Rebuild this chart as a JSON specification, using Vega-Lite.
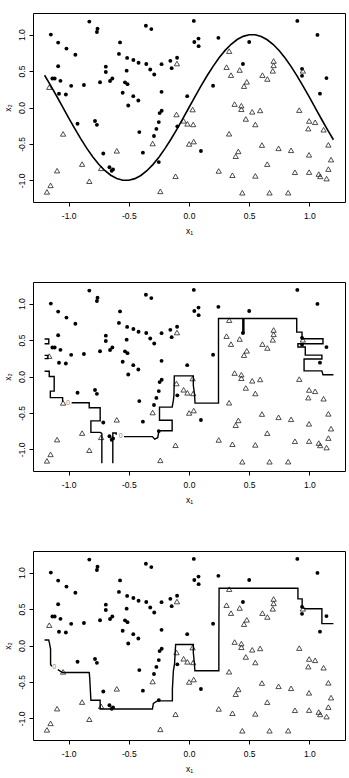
{
"$schema":"https://vega.github.io/schema/vega-lite/v6.json",
"autosize":{"type":"pad"},
"padding":{"left":2,"top":12,"right":5,"bottom":5},
"spacing":80,
"bounds":"flush",
"config":{"view":{"stroke":"black","strokeWidth":1},
"axis":{"domain":false,"grid":false,"tickColor":"black","tickSize":4,"tickWidth":1,"labelFont":"Liberation Sans","labelFontSize":8.5,"labelColor":"black","titleFont":"Liberation Sans","titleFontSize":8.5,"titleFontWeight":"normal","titleColor":"black"}},
"datasets":{
"pts":[
{"x":-1.148,"y":1.0,"cls":"a"},{"x":-1.087,"y":0.89,"cls":"a"},{"x":-1.018,"y":0.808,"cls":"a"},{"x":-0.944,"y":0.724,"cls":"a"},{"x":-1.087,"y":0.566,"cls":"a"},{"x":-1.135,"y":0.397,"cls":"a"},{"x":-1.116,"y":0.397,"cls":"a"},{"x":-1.068,"y":0.366,"cls":"a"},{"x":-1.08,"y":0.188,"cls":"a"},{"x":-1.023,"y":0.178,"cls":"a"},{"x":-0.979,"y":0.297,"cls":"a"},{"x":-0.873,"y":0.308,"cls":"a"},{"x":-0.828,"y":1.178,"cls":"a"},{"x":-0.76,"y":1.08,"cls":"a"},{"x":-0.765,"y":1.035,"cls":"a"},{"x":-0.739,"y":0.347,"cls":"a"},{"x":-0.691,"y":0.56,"cls":"a"},{"x":-0.691,"y":0.487,"cls":"a"},{"x":-0.656,"y":0.363,"cls":"a"},{"x":-0.637,"y":0.397,"cls":"a"},{"x":-0.573,"y":0.893,"cls":"a"},{"x":-0.582,"y":0.735,"cls":"a"},{"x":-0.514,"y":0.68,"cls":"a"},{"x":-0.518,"y":0.505,"cls":"a"},{"x":-0.532,"y":0.345,"cls":"a"},{"x":-0.511,"y":0.32,"cls":"a"},{"x":-0.551,"y":0.203,"cls":"a"},{"x":-0.505,"y":0.027,"cls":"a"},{"x":-0.462,"y":0.651,"cls":"a"},{"x":-0.463,"y":0.156,"cls":"a"},{"x":-0.421,"y":0.096,"cls":"a"},{"x":-0.419,"y":0.614,"cls":"a"},{"x":-0.358,"y":1.121,"cls":"a"},{"x":-0.313,"y":1.075,"cls":"a"},{"x":-0.355,"y":0.596,"cls":"a"},{"x":-0.322,"y":0.521,"cls":"a"},{"x":-0.289,"y":0.452,"cls":"a"},{"x":-0.228,"y":0.594,"cls":"a"},{"x":-0.155,"y":0.64,"cls":"a"},{"x":-0.144,"y":0.54,"cls":"a"},{"x":-0.099,"y":0.683,"cls":"a"},{"x":-0.228,"y":0.215,"cls":"a"},{"x":-0.227,"y":-0.045,"cls":"a"},{"x":-0.244,"y":-0.077,"cls":"a"},{"x":0.04,"y":1.188,"cls":"a"},{"x":0.044,"y":0.898,"cls":"a"},{"x":0.079,"y":0.945,"cls":"a"},{"x":0.08,"y":0.841,"cls":"a"},{"x":-0.015,"y":0.156,"cls":"a"},{"x":0.2,"y":0.299,"cls":"a"},{"x":0.244,"y":0.955,"cls":"a"},{"x":0.448,"y":0.597,"cls":"a"},{"x":0.5,"y":0.898,"cls":"a"},{"x":0.9,"y":1.188,"cls":"a"},{"x":1.067,"y":0.996,"cls":"a"},{"x":0.939,"y":0.53,"cls":"a"},{"x":0.939,"y":0.434,"cls":"a"},{"x":1.142,"y":0.403,"cls":"a"},{"x":1.088,"y":0.19,"cls":"a"},{"x":-0.926,"y":-0.223,"cls":"a"},{"x":-0.781,"y":-0.185,"cls":"a"},{"x":-0.765,"y":-0.238,"cls":"a"},{"x":-0.413,"y":-0.337,"cls":"a"},{"x":-0.271,"y":-0.294,"cls":"a"},{"x":-0.251,"y":-0.2,"cls":"a"},{"x":-0.291,"y":-0.391,"cls":"a"},{"x":-0.097,"y":-0.258,"cls":"a"},{"x":-0.712,"y":-0.631,"cls":"a"},{"x":-0.383,"y":-0.619,"cls":"a"},{"x":0.099,"y":-0.597,"cls":"a"},{"x":-0.661,"y":-0.82,"cls":"a"},{"x":-0.631,"y":-0.849,"cls":"a"},{"x":-0.642,"y":-0.868,"cls":"a"},{"x":-0.251,"y":-0.749,"cls":"a"},
{"x":-1.161,"y":0.279,"cls":"b"},{"x":-0.1,"y":0.603,"cls":"b"},{"x":-0.104,"y":-0.096,"cls":"b"},{"x":0.03,"y":-0.028,"cls":"b"},{"x":-0.045,"y":-0.182,"cls":"b"},{"x":-0.013,"y":-0.224,"cls":"b"},{"x":0.035,"y":-0.232,"cls":"b"},{"x":0.334,"y":0.773,"cls":"b"},{"x":0.312,"y":0.553,"cls":"b"},{"x":0.349,"y":0.444,"cls":"b"},{"x":0.421,"y":0.514,"cls":"b"},{"x":0.48,"y":0.352,"cls":"b"},{"x":0.457,"y":0.293,"cls":"b"},{"x":0.379,"y":0.047,"cls":"b"},{"x":0.435,"y":0.025,"cls":"b"},{"x":0.435,"y":-0.024,"cls":"b"},{"x":0.525,"y":-0.059,"cls":"b"},{"x":0.591,"y":-0.04,"cls":"b"},{"x":0.472,"y":-0.157,"cls":"b"},{"x":0.551,"y":-0.233,"cls":"b"},{"x":0.61,"y":0.444,"cls":"b"},{"x":0.651,"y":0.391,"cls":"b"},{"x":0.703,"y":0.638,"cls":"b"},{"x":0.703,"y":0.578,"cls":"b"},{"x":0.696,"y":0.503,"cls":"b"},{"x":0.916,"y":-0.036,"cls":"b"},{"x":0.946,"y":0.503,"cls":"b"},{"x":0.998,"y":-0.185,"cls":"b"},{"x":1.048,"y":-0.203,"cls":"b"},{"x":0.991,"y":-0.29,"cls":"b"},{"x":1.118,"y":-0.305,"cls":"b"},{"x":-1.046,"y":-0.362,"cls":"b"},{"x":-1.096,"y":-0.866,"cls":"b"},{"x":-1.15,"y":-1.068,"cls":"b"},{"x":-1.18,"y":-1.157,"cls":"b"},{"x":-0.888,"y":-0.776,"cls":"b"},{"x":-0.828,"y":-1.011,"cls":"b"},{"x":-0.73,"y":-0.834,"cls":"b"},{"x":-0.6,"y":-0.594,"cls":"b"},{"x":-0.302,"y":-0.494,"cls":"b"},{"x":-0.112,"y":-0.943,"cls":"b"},{"x":-0.238,"y":-1.15,"cls":"b"},{"x":0.001,"y":-0.5,"cls":"b"},{"x":0.039,"y":-0.467,"cls":"b"},{"x":0.333,"y":-0.36,"cls":"b"},{"x":0.388,"y":-0.668,"cls":"b"},{"x":0.41,"y":-0.602,"cls":"b"},{"x":0.247,"y":-0.87,"cls":"b"},{"x":0.361,"y":-0.929,"cls":"b"},{"x":0.443,"y":-1.169,"cls":"b"},{"x":0.551,"y":-0.938,"cls":"b"},{"x":0.606,"y":-0.515,"cls":"b"},{"x":0.65,"y":-0.777,"cls":"b"},{"x":0.744,"y":-0.56,"cls":"b"},{"x":0.848,"y":-0.587,"cls":"b"},{"x":0.669,"y":-1.169,"cls":"b"},{"x":0.824,"y":-1.168,"cls":"b"},{"x":0.88,"y":-0.888,"cls":"b"},{"x":0.998,"y":-0.886,"cls":"b"},{"x":0.997,"y":-0.649,"cls":"b"},{"x":1.158,"y":-0.512,"cls":"b"},{"x":1.18,"y":-0.715,"cls":"b"},{"x":1.158,"y":-0.845,"cls":"b"},{"x":1.078,"y":-0.913,"cls":"b"},{"x":1.09,"y":-0.945,"cls":"b"},{"x":1.143,"y":-0.975,"cls":"b"}
],
"sine":[
{"x":-1.2,"y":0.4425,"piece":"s","ord":0},{"x":-1.15,"y":0.3035,"piece":"s","ord":1},{"x":-1.1,"y":0.1577,"piece":"s","ord":2},{"x":-1.05,"y":0.0084,"piece":"s","ord":3},{"x":-1.0,"y":-0.1411,"piece":"s","ord":4},{"x":-0.95,"y":-0.2875,"piece":"s","ord":5},{"x":-0.9,"y":-0.4274,"piece":"s","ord":6},{"x":-0.85,"y":-0.5577,"piece":"s","ord":7},{"x":-0.8,"y":-0.6755,"piece":"s","ord":8},{"x":-0.75,"y":-0.7781,"piece":"s","ord":9},{"x":-0.7,"y":-0.8632,"piece":"s","ord":10},{"x":-0.65,"y":-0.929,"piece":"s","ord":11},{"x":-0.6,"y":-0.9738,"piece":"s","ord":12},{"x":-0.55,"y":-0.9969,"piece":"s","ord":13},{"x":-0.5,"y":-0.9975,"piece":"s","ord":14},{"x":-0.45,"y":-0.9757,"piece":"s","ord":15},{"x":-0.4,"y":-0.932,"piece":"s","ord":16},{"x":-0.35,"y":-0.8674,"piece":"s","ord":17},{"x":-0.3,"y":-0.7833,"piece":"s","ord":18},{"x":-0.25,"y":-0.6816,"piece":"s","ord":19},{"x":-0.2,"y":-0.5646,"piece":"s","ord":20},{"x":-0.15,"y":-0.435,"piece":"s","ord":21},{"x":-0.1,"y":-0.2955,"piece":"s","ord":22},{"x":-0.05,"y":-0.1494,"piece":"s","ord":23},{"x":0.0,"y":0.0,"piece":"s","ord":24},{"x":0.05,"y":0.1494,"piece":"s","ord":25},{"x":0.1,"y":0.2955,"piece":"s","ord":26},{"x":0.15,"y":0.435,"piece":"s","ord":27},{"x":0.2,"y":0.5646,"piece":"s","ord":28},{"x":0.25,"y":0.6816,"piece":"s","ord":29},{"x":0.3,"y":0.7833,"piece":"s","ord":30},{"x":0.35,"y":0.8674,"piece":"s","ord":31},{"x":0.4,"y":0.932,"piece":"s","ord":32},{"x":0.45,"y":0.9757,"piece":"s","ord":33},{"x":0.5,"y":0.9975,"piece":"s","ord":34},{"x":0.55,"y":0.9969,"piece":"s","ord":35},{"x":0.6,"y":0.9738,"piece":"s","ord":36},{"x":0.65,"y":0.929,"piece":"s","ord":37},{"x":0.7,"y":0.8632,"piece":"s","ord":38},{"x":0.75,"y":0.7781,"piece":"s","ord":39},{"x":0.8,"y":0.6755,"piece":"s","ord":40},{"x":0.85,"y":0.5577,"piece":"s","ord":41},{"x":0.9,"y":0.4274,"piece":"s","ord":42},{"x":0.95,"y":0.2875,"piece":"s","ord":43},{"x":1.0,"y":0.1411,"piece":"s","ord":44},{"x":1.05,"y":-0.0084,"piece":"s","ord":45},{"x":1.1,"y":-0.1577,"piece":"s","ord":46},{"x":1.15,"y":-0.3035,"piece":"s","ord":47},{"x":1.2,"y":-0.4425,"piece":"s","ord":48}
],
"c2":[
{"x":-1.2,"y":0.072,"piece":"a1","ord":0},{"x":-1.161,"y":0.072,"piece":"a1","ord":1},{"x":-1.161,"y":0.0,"piece":"a1","ord":2},{"x":-1.12,"y":0.0,"piece":"a1","ord":3},{"x":-1.12,"y":-0.2,"piece":"a1","ord":4},{"x":-1.152,"y":-0.2,"piece":"a1","ord":5},{"x":-1.152,"y":-0.29,"piece":"a1","ord":6},{"x":-1.05,"y":-0.29,"piece":"a1","ord":7},{"x":-1.05,"y":-0.345,"piece":"a1","ord":8},
{"x":-0.975,"y":-0.36,"piece":"a2","ord":0},{"x":-0.829,"y":-0.36,"piece":"a2","ord":1},{"x":-0.829,"y":-0.428,"piece":"a2","ord":2},{"x":-0.738,"y":-0.428,"piece":"a2","ord":3},{"x":-0.738,"y":-0.608,"piece":"a2","ord":4},{"x":-0.815,"y":-0.608,"piece":"a2","ord":5},{"x":-0.815,"y":-0.766,"piece":"a2","ord":6},{"x":-0.738,"y":-0.766,"piece":"a2","ord":7},{"x":-0.724,"y":-0.78,"piece":"a2","ord":8},{"x":-0.724,"y":-1.19,"piece":"a2","ord":9},
{"x":-0.633,"y":-1.19,"piece":"b","ord":0},{"x":-0.633,"y":-0.775,"piece":"b","ord":1},{"x":-0.605,"y":-0.775,"piece":"b","ord":2},{"x":-0.605,"y":-0.8,"piece":"b","ord":3},
{"x":-0.54,"y":-0.824,"piece":"c","ord":0},{"x":-0.304,"y":-0.824,"piece":"c","ord":1},{"x":-0.285,"y":-0.86,"piece":"c","ord":2},{"x":-0.26,"y":-0.84,"piece":"c","ord":3},{"x":-0.249,"y":-0.743,"piece":"c","ord":4},{"x":-0.14,"y":-0.743,"piece":"c","ord":5},{"x":-0.14,"y":-0.6,"piece":"c","ord":6},{"x":-0.245,"y":-0.6,"piece":"c","ord":7},{"x":-0.245,"y":-0.42,"piece":"c","ord":8},{"x":-0.14,"y":-0.42,"piece":"c","ord":9},{"x":-0.13,"y":-0.33,"piece":"c","ord":10},{"x":-0.125,"y":-0.25,"piece":"c","ord":11},{"x":-0.122,"y":0.008,"piece":"c","ord":12},{"x":0.036,"y":0.008,"piece":"c","ord":13},{"x":0.036,"y":-0.12,"piece":"c","ord":14},{"x":0.046,"y":-0.25,"piece":"c","ord":15},{"x":0.05,"y":-0.365,"piece":"c","ord":16},{"x":0.245,"y":-0.365,"piece":"c","ord":17},{"x":0.245,"y":0.795,"piece":"c","ord":18},{"x":0.447,"y":0.795,"piece":"c","ord":19},{"x":0.447,"y":0.6,"piece":"c","ord":20},{"x":0.456,"y":0.6,"piece":"c","ord":21},{"x":0.456,"y":0.795,"piece":"c","ord":22},{"x":0.895,"y":0.795,"piece":"c","ord":23},{"x":0.895,"y":0.608,"piece":"c","ord":24},{"x":0.939,"y":0.608,"piece":"c","ord":25},{"x":0.939,"y":0.518,"piece":"c","ord":26},{"x":1.113,"y":0.518,"piece":"c","ord":27},{"x":1.113,"y":0.45,"piece":"c","ord":28},{"x":0.905,"y":0.45,"piece":"c","ord":29},{"x":0.905,"y":0.405,"piece":"c","ord":30},{"x":0.966,"y":0.405,"piece":"c","ord":31},{"x":0.966,"y":0.293,"piece":"c","ord":32},{"x":1.104,"y":0.293,"piece":"c","ord":33},{"x":1.104,"y":0.239,"piece":"c","ord":34},{"x":0.956,"y":0.239,"piece":"c","ord":35},{"x":0.956,"y":0.077,"piece":"c","ord":36},{"x":1.104,"y":0.077,"piece":"c","ord":37},{"x":1.113,"y":0.023,"piece":"c","ord":38},{"x":1.2,"y":0.023,"piece":"c","ord":39},
{"x":-1.2,"y":0.515,"piece":"d","ord":0},{"x":-1.165,"y":0.515,"piece":"d","ord":1},{"x":-1.165,"y":0.45,"piece":"d","ord":2},{"x":-1.2,"y":0.45,"piece":"d","ord":3},
{"x":-1.2,"y":0.29,"piece":"e","ord":0},{"x":-1.172,"y":0.29,"piece":"e","ord":1},{"x":-1.172,"y":0.245,"piece":"e","ord":2},{"x":-1.2,"y":0.245,"piece":"e","ord":3}
],
"c3":[
{"x":-1.2,"y":0.076,"piece":"a1","ord":0},{"x":-1.166,"y":0.076,"piece":"a1","ord":1},{"x":-1.16,"y":0.04,"piece":"a1","ord":2},{"x":-1.15,"y":-0.05,"piece":"a1","ord":3},{"x":-1.15,"y":-0.26,"piece":"a1","ord":4},{"x":-1.14,"y":-0.285,"piece":"a1","ord":5},
{"x":-1.09,"y":-0.33,"piece":"a2","ord":0},{"x":-1.05,"y":-0.37,"piece":"a2","ord":1},{"x":-0.829,"y":-0.37,"piece":"a2","ord":2},{"x":-0.825,"y":-0.44,"piece":"a2","ord":3},{"x":-0.815,"y":-0.75,"piece":"a2","ord":4},{"x":-0.738,"y":-0.75,"piece":"a2","ord":5},{"x":-0.738,"y":-0.871,"piece":"a2","ord":6},{"x":-0.304,"y":-0.871,"piece":"a2","ord":7},{"x":-0.296,"y":-0.794,"piece":"a2","ord":8},{"x":-0.263,"y":-0.759,"piece":"a2","ord":9},{"x":-0.138,"y":-0.759,"piece":"a2","ord":10},{"x":-0.138,"y":-0.6,"piece":"a2","ord":11},{"x":-0.13,"y":-0.35,"piece":"a2","ord":12},{"x":-0.12,"y":-0.25,"piece":"a2","ord":13},{"x":-0.115,"y":-0.1,"piece":"a2","ord":14},{"x":-0.111,"y":0.013,"piece":"a2","ord":15},{"x":0.036,"y":0.013,"piece":"a2","ord":16},{"x":0.036,"y":-0.1,"piece":"a2","ord":17},{"x":0.045,"y":-0.25,"piece":"a2","ord":18},{"x":0.049,"y":-0.346,"piece":"a2","ord":19},{"x":0.248,"y":-0.346,"piece":"a2","ord":20},{"x":0.248,"y":0.0,"piece":"a2","ord":21},{"x":0.25,"y":0.785,"piece":"a2","ord":22},{"x":0.905,"y":0.785,"piece":"a2","ord":23},{"x":0.905,"y":0.64,"piece":"a2","ord":24},{"x":0.94,"y":0.64,"piece":"a2","ord":25},{"x":0.94,"y":0.52,"piece":"a2","ord":26},{"x":0.97,"y":0.505,"piece":"a2","ord":27},{"x":1.104,"y":0.505,"piece":"a2","ord":28},{"x":1.104,"y":0.3,"piece":"a2","ord":29},{"x":1.2,"y":0.3,"piece":"a2","ord":30}
],
"lab2":[{"x":-1.005,"y":-0.36,"t":"0"},{"x":-0.567,"y":-0.815,"t":"0"}],
"lab3":[{"x":-1.12,"y":-0.3,"t":"0"}]
},
"vconcat":[
{"width":312,"height":189,
"encoding":{
"x":{"field":"x","type":"quantitative","scale":{"domain":[-1.296,1.296],"nice":false,"zero":false},"axis":{"values":[-1,-0.5,0,0.5,1],"labelExpr":"datum.value < 0 ? '-' + format(-datum.value, '.1f') : format(datum.value, '.1f')","title":"x₁","labelPadding":5,"titlePadding":7}},
"y":{"field":"y","type":"quantitative","scale":{"domain":[-1.296,1.296],"nice":false,"zero":false},"axis":{"values":[-1,-0.5,0,0.5,1],"labelExpr":"datum.value < 0 ? '-' + format(-datum.value, '.1f') : format(datum.value, '.1f')","labelAngle":-90,"title":"x₂","labelPadding":3,"titlePadding":5}}},
"layer":[
{"data":{"name":"pts"},"transform":[{"filter":"datum.cls=='a'"}],"mark":{"type":"circle","color":"black","size":15,"opacity":1}},
{"data":{"name":"pts"},"transform":[{"filter":"datum.cls=='b'"}],"mark":{"type":"point","shape":"triangle-up","filled":false,"color":"#222","strokeWidth":0.8,"size":28,"opacity":1}},
{"data":{"name":"sine"},"mark":{"type":"line","color":"black","strokeWidth":1.6},"encoding":{"detail":{"field":"piece"},"order":{"field":"ord","type":"quantitative"}}}
]},
{"width":312,"height":189,
"encoding":{
"x":{"field":"x","type":"quantitative","scale":{"domain":[-1.296,1.296],"nice":false,"zero":false},"axis":{"values":[-1,-0.5,0,0.5,1],"labelExpr":"datum.value < 0 ? '-' + format(-datum.value, '.1f') : format(datum.value, '.1f')","title":"x₁","labelPadding":5,"titlePadding":7}},
"y":{"field":"y","type":"quantitative","scale":{"domain":[-1.296,1.296],"nice":false,"zero":false},"axis":{"values":[-1,-0.5,0,0.5,1],"labelExpr":"datum.value < 0 ? '-' + format(-datum.value, '.1f') : format(datum.value, '.1f')","labelAngle":-90,"title":"x₂","labelPadding":3,"titlePadding":5}}},
"layer":[
{"data":{"name":"pts"},"transform":[{"filter":"datum.cls=='a'"}],"mark":{"type":"circle","color":"black","size":15,"opacity":1}},
{"data":{"name":"pts"},"transform":[{"filter":"datum.cls=='b'"}],"mark":{"type":"point","shape":"triangle-up","filled":false,"color":"#222","strokeWidth":0.8,"size":28,"opacity":1}},
{"data":{"name":"c2"},"mark":{"type":"line","color":"black","strokeWidth":1.4,"interpolate":"linear"},"encoding":{"detail":{"field":"piece"},"order":{"field":"ord","type":"quantitative"}}},
{"data":{"name":"lab2"},"mark":{"type":"text","color":"#888","fontSize":7,"font":"Liberation Sans"},"encoding":{"text":{"field":"t"}}}
]},
{"width":312,"height":189,
"encoding":{
"x":{"field":"x","type":"quantitative","scale":{"domain":[-1.296,1.296],"nice":false,"zero":false},"axis":{"values":[-1,-0.5,0,0.5,1],"labelExpr":"datum.value < 0 ? '-' + format(-datum.value, '.1f') : format(datum.value, '.1f')","title":"x₁","labelPadding":5,"titlePadding":7}},
"y":{"field":"y","type":"quantitative","scale":{"domain":[-1.296,1.296],"nice":false,"zero":false},"axis":{"values":[-1,-0.5,0,0.5,1],"labelExpr":"datum.value < 0 ? '-' + format(-datum.value, '.1f') : format(datum.value, '.1f')","labelAngle":-90,"title":"x₂","labelPadding":3,"titlePadding":5}}},
"layer":[
{"data":{"name":"pts"},"transform":[{"filter":"datum.cls=='a'"}],"mark":{"type":"circle","color":"black","size":15,"opacity":1}},
{"data":{"name":"pts"},"transform":[{"filter":"datum.cls=='b'"}],"mark":{"type":"point","shape":"triangle-up","filled":false,"color":"#222","strokeWidth":0.8,"size":28,"opacity":1}},
{"data":{"name":"c3"},"mark":{"type":"line","color":"black","strokeWidth":1.4,"interpolate":"linear"},"encoding":{"detail":{"field":"piece"},"order":{"field":"ord","type":"quantitative"}}},
{"data":{"name":"lab3"},"mark":{"type":"text","color":"#888","fontSize":7,"font":"Liberation Sans"},"encoding":{"text":{"field":"t"}}}
]}
]
}
